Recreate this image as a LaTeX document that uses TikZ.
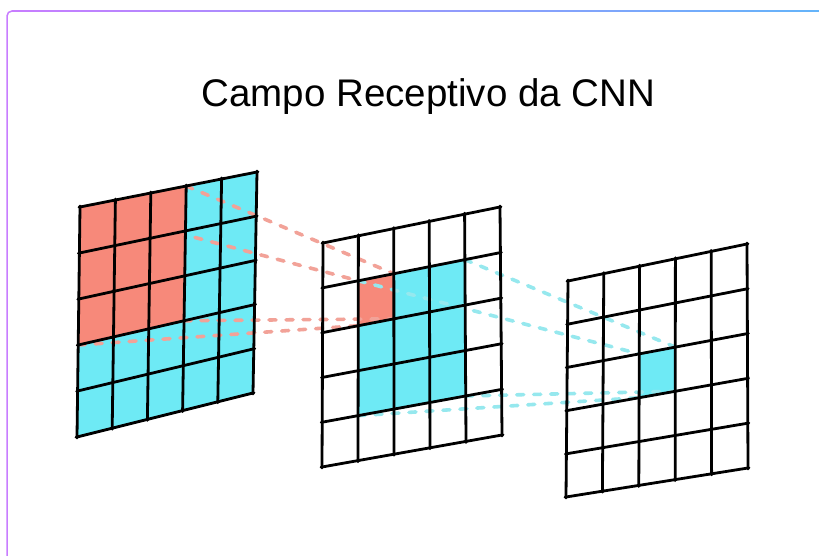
\documentclass[tikz,border=0pt]{standalone}
\usepackage{fontspec}
\newfontfamily\titlefont{Liberation Sans}
\usetikzlibrary{calc}
\definecolor{salm}{RGB}{247,137,122}
\definecolor{cyn}{RGB}{110,234,245}
\definecolor{salmdash}{RGB}{242,162,152}
\definecolor{cyndash}{RGB}{150,232,238}
\definecolor{frameL}{RGB}{200,125,255}
\definecolor{frameR}{RGB}{100,180,250}
\tikzset{
  gridline/.style={line width=2.8pt, black, line cap=round, shorten <=-1pt, shorten >=-1pt},
  salmdashed/.style={salmdash, line width=3.6pt, line cap=round, dash pattern=on 7pt off 10pt},
  cyndashed/.style={cyndash, line width=3.6pt, line cap=round, dash pattern=on 7pt off 10pt},
}
\newcommand\mkgrid[5]{%
  \foreach \i in {0,...,5}{%
    \coordinate (#1t\i) at ($(#2)!\i/5!(#3)$);
    \coordinate (#1b\i) at ($(#4)!\i/5!(#5)$);
    \foreach \j in {0,...,5}{\coordinate (#1-\i-\j) at ($(#1t\i)!\j/5!(#1b\i)$);}
  }}
\newcommand\gcell[4]{\pgfmathtruncatemacro\ia{#2+1}\pgfmathtruncatemacro\ja{#3+1}%
  \fill[#4] (#1-#2-#3) -- (#1-\ia-#3) -- (#1-\ia-\ja) -- (#1-#2-\ja) -- cycle;}
\newcommand\glines[1]{\foreach \k in {0,...,5}{%
  \draw[gridline] (#1-\k-0) -- (#1-\k-5);
  \draw[gridline] (#1-0-\k) -- (#1-5-\k);}}
\begin{document}
\begin{tikzpicture}[x=1pt,y=-1pt]
\fill[white] (0,0) rectangle (819,556);
\useasboundingbox (0,0) rectangle (819,556);
% frame
\draw[frameL, line width=1.5pt] (7,556) -- (7,16) arc[start angle=180, end angle=270, radius=5] -- (14,11);
\shade[left color=frameL, right color=frameR] (12,10.25) rectangle (819,11.75);
% title
\node[anchor=base, inner sep=0pt, font=\titlefont\fontsize{38.5}{46}\selectfont] (title) at (428.5,107) {Campo Receptivo da CNN};
% grid corners
\coordinate (LTL) at (80,207);  \coordinate (LTR) at (257,172);
\coordinate (LBL) at (77,437);  \coordinate (LBR) at (253,393);
\coordinate (MTL) at (323,243); \coordinate (MTR) at (500,207);
\coordinate (MBL) at (322,467); \coordinate (MBR) at (502,435);
\coordinate (RTL) at (568,281); \coordinate (RTR) at (747,244);
\coordinate (RBL) at (566,497); \coordinate (RBR) at (748,468);
\mkgrid{L}{LTL}{LTR}{LBL}{LBR}
\mkgrid{M}{MTL}{MTR}{MBL}{MBR}
\mkgrid{R}{RTL}{RTR}{RBL}{RBR}
% fills
\foreach \a in {0,...,4}{\foreach \b in {0,...,4}{\gcell{L}{\a}{\b}{cyn}}}
\foreach \a in {1,2,3}{\foreach \b in {1,2,3}{\gcell{M}{\a}{\b}{cyn}}}
\gcell{M}{1}{1}{salm}
\gcell{R}{2}{2}{cyn}
% dashed connectors
\draw[salmdashed] (L-3-0) -- (M-2-1);
\draw[salmdashed] (L-0-0) -- (M-1-1);
\draw[salmdashed] (L-3-3) -- (M-2-2);
\draw[salmdashed] (L-0-3) -- (M-1-2);
\draw[cyndashed] (M-4-1) -- (R-3-2);
\draw[cyndashed] (M-1-1) -- (R-2-2);
\draw[cyndashed] (M-4-4) -- (R-3-3);
\draw[cyndashed] (M-1-4) -- (R-2-3);
% salmon block of the first map
\foreach \a in {0,1,2}{\foreach \b in {0,1,2}{\gcell{L}{\a}{\b}{salm}}}
% grid lines
\glines{L}
\glines{M}
\glines{R}
\end{tikzpicture}
\end{document}
